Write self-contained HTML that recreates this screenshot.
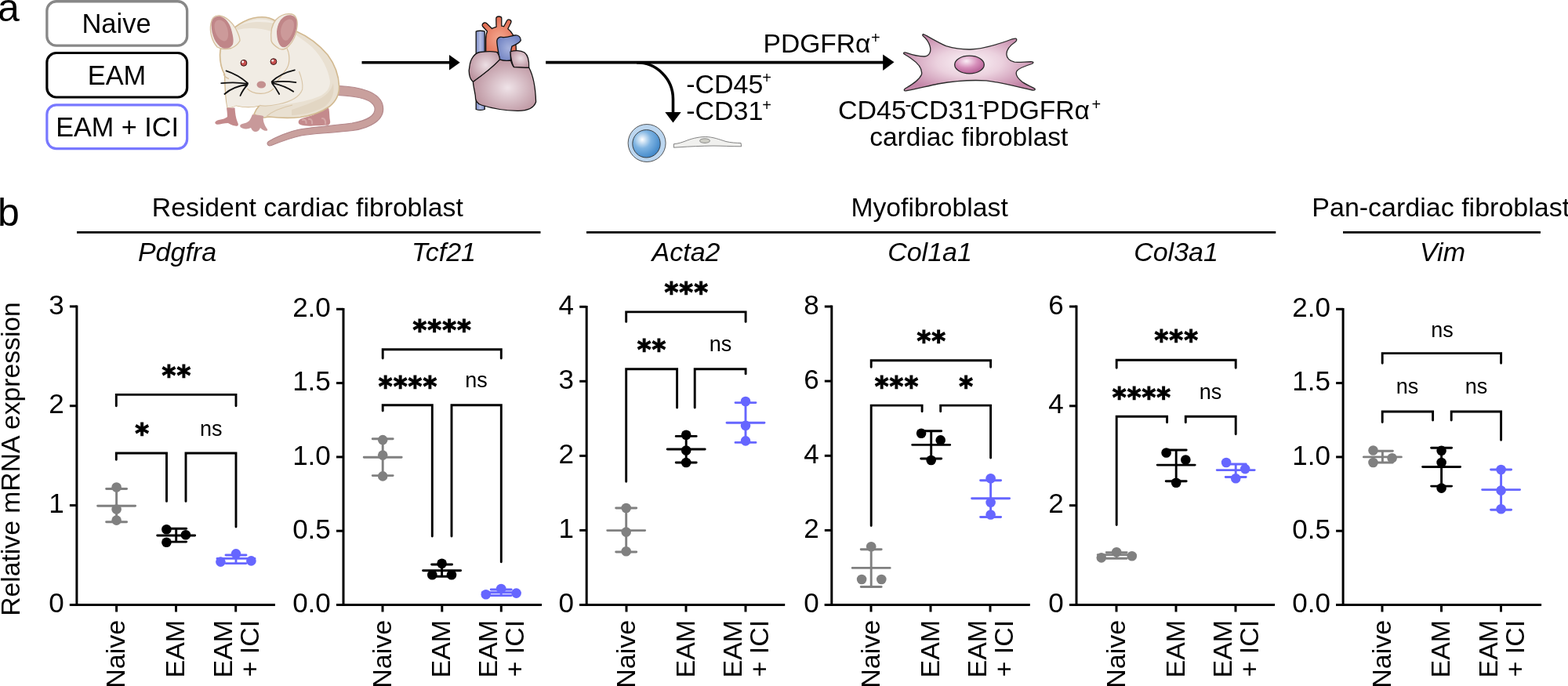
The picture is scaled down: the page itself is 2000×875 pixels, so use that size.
<!DOCTYPE html>
<html><head><meta charset="utf-8"><title>Figure</title>
<style>
html,body{margin:0;padding:0;background:#fff;width:2000px;height:875px;overflow:hidden}
svg{display:block}
text{font-family:"Liberation Sans", Arial, sans-serif;fill:#000}
.t{font-size:34px}
.h{font-size:33.7px}
.ti{font-size:34px;font-style:italic}
.tk{font-size:35px}
.tx{font-size:34px}
.ns{font-size:27px}
.as{font-family:"DejaVu Sans",sans-serif;font-weight:bold;font-size:34px;letter-spacing:1.1px;fill:#000;stroke:#000;stroke-width:1.1px}
.lbl{font-size:50px}
.sup{font-size:20px}
</style></head>
<body>
<svg width="2000" height="875" viewBox="0 0 2000 875">
<rect width="2000" height="875" fill="#fff"/>
<defs>
<radialGradient id="gHeart" cx="0.55" cy="0.55" r="0.6"><stop offset="0" stop-color="#efe3e8"/><stop offset="1" stop-color="#b98f9b"/></radialGradient>
<radialGradient id="gLobe" cx="0.55" cy="0.45" r="0.6"><stop offset="0" stop-color="#ecdfe4"/><stop offset="1" stop-color="#bb929e"/></radialGradient>
<radialGradient id="gAorta" cx="0.5" cy="0.6" r="0.6"><stop offset="0" stop-color="#f4a78f"/><stop offset="1" stop-color="#e06a4f"/></radialGradient>
<radialGradient id="gPulm" cx="0.5" cy="0.5" r="0.6"><stop offset="0" stop-color="#a7b3de"/><stop offset="1" stop-color="#6d7fc0"/></radialGradient>
<linearGradient id="gCava" x1="0" x2="1" y1="0" y2="0"><stop offset="0" stop-color="#7d8cc6"/><stop offset="0.5" stop-color="#b5bfe5"/><stop offset="1" stop-color="#7d8cc6"/></linearGradient>
<radialGradient id="gBlue" cx="0.35" cy="0.35" r="0.7"><stop offset="0" stop-color="#ffffff"/><stop offset="0.45" stop-color="#7fb4e2"/><stop offset="1" stop-color="#3f86c8"/></radialGradient>
<radialGradient id="gFib" cx="0.5" cy="0.5" r="0.55"><stop offset="0" stop-color="#fbf3f7"/><stop offset="0.45" stop-color="#ebd1de"/><stop offset="1" stop-color="#c486a8"/></radialGradient>
<radialGradient id="gNuc" cx="0.4" cy="0.3" r="0.75"><stop offset="0" stop-color="#fbeef6"/><stop offset="0.5" stop-color="#d68fba"/><stop offset="1" stop-color="#b0568f"/></radialGradient>
</defs>
<!-- label a -->
<text x="-3" y="27" class="lbl">a</text>
<!-- boxes -->
<rect x="59.85" y="1.75" width="178.8" height="56.4" rx="12" fill="#fff" stroke="#888" stroke-width="3.3"/>
<rect x="59.85" y="67.5" width="178.8" height="56.5" rx="12" fill="#fff" stroke="#000" stroke-width="3.2"/>
<rect x="59.85" y="133.9" width="178.8" height="55.7" rx="12" fill="#fff" stroke="#7878ff" stroke-width="3.2"/>
<text x="148.5" y="42" text-anchor="middle" class="t" style="font-size:34.5px">Naive</text>
<text x="149.0" y="107.7" text-anchor="middle" class="t" style="font-size:34.4px">EAM</text>
<text x="149.6" y="174.1" text-anchor="middle" class="t" style="font-size:34.2px">EAM + ICI</text>
<!-- mouse -->
<g id="mouse">
 <!-- tail -->
 <path d="M431 109.5 C458 110.5 486 117 488.5 136 C491 153 472 163.5 450 166.5 C420 170 398 170 384 173 C370 176 356 181.5 346 185.5 C341.5 187 339.5 183 342.5 180.5 C352 174.5 368 168 380 165.5 C396 162 420 161 449 157 C466 154 479.5 149 478 137.5 C476 127 456 122.5 431 121.5 Z" fill="#c9a09d" stroke="#b3878a" stroke-width="1.1"/>
 <!-- hind paw -->
 <path d="M410 136 C414 134 418 135 419.5 139 C420.5 145 420 150 421 154 C422 158.5 419 160.5 415 159.5 C410 160.5 404 160 399 160.5 C393 161 387 160.5 383 159 C379.5 157.5 380 153 384 151.5 C390 149.5 396 148 401 146 C405 143 407 139 410 136 Z" fill="#c48a8c"/>
 <path d="M386 153 C389 152 391 154 390.5 157 M394 152 C397 151.5 398.5 154 398 157.5 M411 151 C414 151 415.5 154 415 157.5" fill="none" stroke="#d4a7a6" stroke-width="2.2" stroke-linecap="round"/>
 <!-- body silhouette -->
 <path d="M290 45 C297 35 312 24 329 22 C338 21 346 23 352 27 L378 40 C392 46 407 57 418 70 C427 82 432 96 432.6 110 C432.8 120 429 129 420 136 C410 143 397 147.5 383 149.5 C370 151 356 150.5 343 149 L337 150 C333 150 328 148.5 324 145.5 C326 141 328.5 137 331 134.4 C322 137 312 137 301 134.4 C297 136.5 293 137.5 290.2 137 C288 128 287 112 286.6 95 C283 89 280.5 80 280.5 70 C280.5 60 284 52 290 45 Z" fill="#e9e0d1" stroke="#d2b990" stroke-width="1.6"/>
 <!-- lighter front/head region -->
 <path d="M292 44 C299 35 313 26 329 24.5 C340 24 350 27 356 32 C368 38 384 48 398 60 C410 72 419 88 421 104 C421 113 416 119 407 123 C395 128 380 131 365 133 C352 135 340 136 331 134.4 C322 137 312 137 301 134.4 C297 136.5 293 137.5 290.2 137 C288.5 128 287.5 112 287.5 95 C284 89 282 80 282 70 C282 60 286 51 292 44 Z" fill="#f1ece4"/>
 <!-- inner hip darker -->
 <path d="M372 140 C384 136 398 131 410 125 C418 120 423 114 425 106 C427 118 424 128 414 136 C402 143 386 146.5 372 147 Z" fill="#e2d6c3"/>
 <!-- body inner lines -->
 <path d="M381.5 91 C385 100 386.5 108 385.7 114 C382 124 370 130 355 133 C346 135 338 136 331 134.4 M340 148.5 C348 141 360 137 373 134" fill="none" stroke="#d9c6a8" stroke-width="1.1"/>
 <!-- head top band -->
 <path d="M301 35 C312 28 330 26 352 30 C348 33 346 36 346 40 C332 35 314 35 303 38 Z" fill="#e8dfd0"/>
 <!-- left front paw -->
 <path d="M289 137.5 L299.5 137.5 C300 144 300.5 150 303 156 C305 159.5 303.5 161.5 300 160.5 C296 160 293 158 291 157 C285 157 279 159.5 276 158.5 C273 157.5 274 154 279 153 C284 152 288 151 290 149 C290 145 289.5 141 289 137.5 Z" fill="#c48a8c"/>
 <!-- center front leg + paw -->
 <path d="M322 146 C327 146.5 332 147 336 148 C335 154 337 159 341 165 C342 167 339 167.5 336 166 C334 165 333 164 332 163 C331 166.5 328 168.5 325 168 C322 167.5 321 165 320 163 C317 164.5 313 165 309 163.5 C305 162 305.5 159 309 158 C313 157 316 156 318 154 C320 151 321 148 322 146 Z" fill="#c8999a"/>
 <!-- head outline / cheeks -->
 <path d="M365 60 C370 68 370 80 366 87 C362 93 358 98 352 106 M285 94.6 C287 98 290 100 292 100.3 M315.4 112.8 C318 116 324 119 332.2 119.4 C338 119.5 345 117 349 112.8" fill="none" stroke="#d6bf9c" stroke-width="1.2"/>
 <!-- ears -->
 <path d="M277 60 C270 52 267 40 269 30 C270 23 274 19.5 280 20 C288 21 296 28 301 37 C304 43 306 48 306 52 C303 57 299 60 295 61.5 C289 63 282 63 277 60 Z" fill="#f1ece4" stroke="#d6bf9c" stroke-width="1.3"/>
 <path d="M269.6 32 C269.8 24.5 273.5 20.6 279.5 20.8 C286.5 21.6 292.5 28.5 295 37.5 C296.8 44 298.5 51 297 56.5 C294.5 61.5 288.5 63 283.5 61 C275 57 269.8 45 269.6 32 Z" fill="#c08688"/>
 <path d="M273.5 33 C273.5 27 277.5 24.5 282.5 26 C287.5 28 290.5 35 291 42 C291.5 49 289 53 285.5 52.5 C278.5 51 273.5 42 273.5 33 Z" fill="#cc9a9a"/>
 <path d="M346 52 C345 42 346 32 352 25 C358 19 366 17 372 18 C377 19 380 25 379 34 C378 44 374 53 368 59 C364 63 360 64 356 62 C351 59 347 56 346 52 Z" fill="#f1ece4" stroke="#d6bf9c" stroke-width="1.3"/>
 <path d="M353 40 C354 30 358 23.5 364 20.5 C370 18 376.5 19.5 378.4 26 C379.6 35 376.5 45 372 52 C368 58 364 61.5 360 60 C355.5 58 353 50 353 40 Z" fill="#c08688"/>
 <path d="M358 40 C358.5 33 361.5 27 367 25 C372 23.5 375.5 26.5 375 33 C374.5 40 371 47 367 51 C362.5 54 358 48 358 40 Z" fill="#cc9a9a"/>
 <!-- eyes -->
 <circle cx="310.9" cy="80.3" r="3.9" fill="#c8504f" stroke="#3a1a1a" stroke-width="1"/><circle cx="309.7" cy="79" r="1.4" fill="#fff"/>
 <circle cx="348.9" cy="78.6" r="3.9" fill="#c8504f" stroke="#3a1a1a" stroke-width="1"/><circle cx="347.7" cy="77.3" r="1.4" fill="#fff"/>
 <!-- nose -->
 <ellipse cx="333.3" cy="108" rx="5.8" ry="4.6" fill="#c4908f"/>
 <!-- whiskers -->
 <path d="M316 106.2 C307 98 298 93.5 288.5 90.4 M316 107 C305 105 293 105 282.2 106.2 M315.5 108 C303 109.5 293 114 286.4 120 M315 109 C311 113 308.5 117.5 306.5 122 M346.7 104.1 C354 97 364 92 375.9 89.3 M346.7 104.8 C357 103.5 368 103.8 377.4 105.2 M347 105.8 C357 108 367 111.5 374.2 116.8 M347.2 106.5 C350.5 110.5 353.5 115 356.2 120" fill="none" stroke="#111" stroke-width="1.8" stroke-linecap="round"/>
</g>
<!-- arrow 1 -->
<line x1="461.5" y1="79.8" x2="575" y2="79.8" stroke="#000" stroke-width="3.6"/>
<path d="M573 70.1 L586.7 79.8 L573 89.5 Z" fill="#000"/>
<!-- heart -->
<g id="heart" stroke="#111" stroke-width="1.3" stroke-linejoin="round">
 <path d="M607.2 40 C609 39 616 39 618.2 40 L618.2 139.5 C615 140.5 610 140.5 607.2 139.5 Z" fill="url(#gCava)"/>
 <path d="M619.7 67 L619.7 50 C619.7 45 620.5 42 621.5 40 L615.5 33.5 C614.5 32 615.5 29.5 618 29 C619 28.8 620 29.2 621 30 L627.5 36.5 C629 35.5 631 34.8 633 34.3 L632.8 24 C632.8 22 634.5 21 636.2 21 C638 21 639.8 22 639.8 23.5 L639.8 33.2 C640.8 33.4 641.8 33.6 642.7 33.8 L646.5 26.5 C647.3 25 649 24.7 650.5 25.3 C652 26 652.3 27.5 651.7 29 L647.8 36.8 C652 40 656 46 657.5 54 C658.3 58 658.4 62 658.4 67 Z" fill="url(#gAorta)"/>
 <path d="M637.5 78 C636 66 634 60 633.8 52 C634 48 638 46.5 641 47.5 C647 48 652 46 657 45 C661 44.5 664.5 47 664.3 51.5 C663 55 657 57 653 59 C651.5 64 651 70 651.5 78 Z" fill="url(#gPulm)"/>
 <path d="M650.9 66 C656 64 664 64 669 67 C673 70 675 78 674.7 86.3 C668 86.5 661 86 655.4 85.6 C653 81 651.5 74 650.9 66 Z" fill="url(#gLobe)"/>
 <path d="M637.5 75.9 C641 77.2 647 77.6 651.5 77 C652.5 80 653.5 83.5 655.4 85.6 C662 86 670 86.3 674.7 86.3 C680 96 683 112 683.6 130 C681 138 672 141.5 660 141.3 C645 141 628 138.5 614 134 C608 132 606 128 606.3 122 C605 114 603.4 108 603.4 104.2 C615 96 628 86 637.5 75.9 Z" fill="url(#gHeart)"/>
 <path d="M603.4 104.2 C598 100 597.5 90 598.9 84.8 C600 75 605 68 612 66.5 C620 65.5 629 65.5 633.1 66.3 C636 68 637 72 637.5 75.9 C628 86 615 96 603.4 104.2 Z" fill="url(#gLobe)"/>
</g>
<!-- long line + curved arrow -->
<line x1="696.1" y1="79.6" x2="1128" y2="79.6" stroke="#000" stroke-width="3.6"/>
<path d="M1126.2 69.5 L1140.5 79.3 L1126.2 90 Z" fill="#000"/>
<path d="M812 79.8 A46.5 46.5 0 0 1 858.5 126.3 L858.5 145" fill="none" stroke="#000" stroke-width="3.6"/>
<path d="M848.3 143.1 L868.7 143.1 L858.5 156.5 Z" fill="#000"/>
<!-- texts -->
<text x="875.2" y="118.7" class="t">-CD45</text><text x="972.3" y="106.1" class="sup">+</text>
<text x="875.2" y="153.1" class="t">-CD31</text><text x="972.3" y="140.8" class="sup">+</text>
<text x="973.5" y="67.1" class="t" style="font-size:33.6px">PDGFRα</text><text x="1111" y="54.9" class="sup">+</text>
<text x="1068.9" y="151.75" class="t">CD45</text><text x="1154.4" y="141.1" class="sup" style="font-size:24px">-</text>
<text x="1160.4" y="151.75" class="t">CD31</text><text x="1247.1" y="141.1" class="sup" style="font-size:24px">-</text>
<text x="1253" y="151.75" class="t" style="font-size:33.6px">PDGFRα</text><text x="1392.4" y="139.6" class="sup">+</text>
<text x="1235.75" y="186.25" text-anchor="middle" class="t" style="font-size:33.5px">cardiac fibroblast</text>
<!-- blue cell -->
<circle cx="825.1" cy="182.5" r="24" fill="#bcd6ef" stroke="#444" stroke-width="0.9"/>
<circle cx="824.5" cy="183.3" r="17.7" fill="url(#gBlue)" stroke="#333" stroke-width="0.9"/>
<!-- endothelial cell -->
<path d="M859.4 183.7 C866 183 870 181.5 874 180 C880 177.5 890 174.5 899.7 174.5 C909 174.5 918 178 926 180.5 C932 182 939 182.3 945.1 182.5 L945.6 186.8 C933 186.8 920 186 910 186 C895 186.2 880 186.8 866 187.8 L859.4 188.2 Z" fill="#f0f0ee" stroke="#666" stroke-width="0.8"/>
<ellipse cx="899" cy="179.6" rx="6.5" ry="2.8" fill="#cfcfc7" stroke="#666" stroke-width="0.7"/>
<!-- fibroblast -->
<path d="M1177.9 43.7 C1185 47 1196 54 1206.7 58.7 C1218 62 1228 63.2 1237.6 63 C1252 62.5 1268 58 1283.8 52.5 C1289 50.5 1293 49 1295.5 49.2 C1297.5 49.8 1297 52 1295 53.5 C1289 57.5 1284 63 1283.8 68.9 C1284 74 1288 78 1294 79.2 C1301 79.8 1310 78.5 1316.7 78.8 C1318.5 79.2 1318.5 80.5 1316 81.5 C1308 84 1300 86.5 1297 90.5 C1294.5 95 1298 100 1304.4 104.9 C1310 108.5 1316 111 1319.5 112.8 C1321 114 1320 115.5 1317 115 C1300 111.5 1280 105.5 1258.1 102.9 C1240 101.8 1220 102.8 1196.4 107 C1182 110 1166 114 1155.5 115.8 C1153 116.2 1152.5 114.5 1154.5 113 C1162 108.5 1172 103 1175.5 95 C1177 87 1170 80 1162 74.5 C1158 71.5 1154 69.5 1152.8 68.5 C1152 67.2 1153.5 66.5 1155.5 67.2 C1162 69.5 1170 72 1178.9 72 C1186 71.5 1188 65 1186.1 58.7 C1184.5 53 1180 48 1177 45.5 C1176.5 44.2 1177 43.3 1177.9 43.7 Z" fill="url(#gFib)" stroke="#2a2a2a" stroke-width="1.3"/>
<ellipse cx="1236.5" cy="82.5" rx="18.8" ry="11.4" fill="url(#gNuc)" stroke="#2a2a2a" stroke-width="1.3"/>


<text x="-3" y="288" class="lbl">b</text>
<text x="392.3" y="276" text-anchor="middle" class="h">Resident cardiac fibroblast</text>
<line x1="98" y1="296.4" x2="689.5" y2="296.4" stroke="#000" stroke-width="2.9"/>
<text x="1185.6" y="276" text-anchor="middle" class="h">Myofibroblast</text>
<line x1="748" y1="296.4" x2="1627.3" y2="296.4" stroke="#000" stroke-width="2.9"/>
<text x="1673.3" y="276" class="t">Pan-cardiac fibroblast</text>
<line x1="1713" y1="296.4" x2="1965" y2="296.4" stroke="#000" stroke-width="2.9"/>
<text x="226" y="333" text-anchor="middle" class="ti">Pdgfra</text>
<text x="566" y="333" text-anchor="middle" class="ti">Tcf21</text>
<text x="875" y="333" text-anchor="middle" class="ti">Acta2</text>
<text x="1186" y="333" text-anchor="middle" class="ti">Col1a1</text>
<text x="1500" y="333" text-anchor="middle" class="ti">Col3a1</text>
<text x="1840" y="333" text-anchor="middle" class="ti">Vim</text>
<text transform="translate(25,585.5) rotate(-90)" text-anchor="middle" class="h">Relative mRNA expression</text>

<path d="M97.9 389.5 V771.5 M88.9 771.5 H350.9" fill="none" stroke="#000" stroke-width="3" stroke-linecap="butt"/>
<line x1="88.9" y1="771.5" x2="97.9" y2="771.5" stroke="#000" stroke-width="3"/>
<text x="81.7" y="781.1" text-anchor="end" class="tk">0</text>
<line x1="88.9" y1="644.6" x2="97.9" y2="644.6" stroke="#000" stroke-width="3"/>
<text x="81.7" y="654.2" text-anchor="end" class="tk">1</text>
<line x1="88.9" y1="517.7" x2="97.9" y2="517.7" stroke="#000" stroke-width="3"/>
<text x="81.7" y="527.3" text-anchor="end" class="tk">2</text>
<line x1="88.9" y1="390.9" x2="97.9" y2="390.9" stroke="#000" stroke-width="3"/>
<text x="81.7" y="400.5" text-anchor="end" class="tk">3</text>
<line x1="148.6" y1="771.5" x2="148.6" y2="780.5" stroke="#000" stroke-width="3"/>
<line x1="224.5" y1="771.5" x2="224.5" y2="780.5" stroke="#000" stroke-width="3"/>
<line x1="300.7" y1="771.5" x2="300.7" y2="780.5" stroke="#000" stroke-width="3"/>
<text transform="translate(159.1,790.8) rotate(-90)" text-anchor="end" class="tx">Naive</text>
<text transform="translate(235.0,790.8) rotate(-90)" text-anchor="end" class="tx">EAM</text>
<text transform="translate(295.7,790.8) rotate(-90)" text-anchor="end" class="tx">EAM</text>
<text transform="translate(329.7,790.8) rotate(-90)" text-anchor="end" class="tx">+ ICI</text>
<path d="M148.3 517.7 V503.4 H301.0 V517.7" fill="none" stroke="#000" stroke-width="2.9" stroke-linecap="round" stroke-linejoin="miter"/>
<text transform="translate(225.4,491.1) scale(1,1.06)" text-anchor="middle" class="as">**</text>
<path d="M148.3 586.2 V578.0 H212.5 V639.4" fill="none" stroke="#000" stroke-width="2.9" stroke-linecap="round" stroke-linejoin="miter"/>
<text transform="translate(181.8,564.7) scale(1,1.06)" text-anchor="middle" class="as">*</text>
<path d="M237.0 639.4 V578.0 H301.0 V672.0" fill="none" stroke="#000" stroke-width="2.9" stroke-linecap="round" stroke-linejoin="miter"/>
<text x="269.2" y="555.5" text-anchor="middle" class="ns">ns</text>
<circle cx="148.6" cy="621.5" r="6.3" fill="#808080"/>
<circle cx="148.6" cy="649.5" r="6.3" fill="#808080"/>
<circle cx="148.6" cy="663.6" r="6.3" fill="#808080"/>
<path d="M124.6 645.3 H172.6 M135.6 623.5 H161.6 M135.6 665.8 H161.6 M148.6 623.5 V665.8" fill="none" stroke="#808080" stroke-width="2.9" stroke-linecap="round"/>
<circle cx="212.4" cy="675.3" r="6.3" fill="#000000"/>
<circle cx="212.4" cy="691.7" r="6.3" fill="#000000"/>
<circle cx="236.9" cy="682.2" r="6.3" fill="#000000"/>
<path d="M200.7 683.0 H248.7 M211.7 674.3 H237.7 M211.7 691.1 H237.7 M224.7 674.3 V691.1" fill="none" stroke="#000000" stroke-width="2.9" stroke-linecap="round"/>
<circle cx="301.0" cy="706.4" r="6.3" fill="#6666ff"/>
<circle cx="281.4" cy="716.6" r="6.3" fill="#6666ff"/>
<circle cx="320.4" cy="715.4" r="6.3" fill="#6666ff"/>
<path d="M277.0 712.4 H325.0 M288.0 708.0 H314.0 M288.0 718.6 H314.0 M301.0 708.0 V718.6" fill="none" stroke="#6666ff" stroke-width="2.9" stroke-linecap="round"/>
<path d="M438.0 392.9 V771.5 M429.0 771.5 H691.0" fill="none" stroke="#000" stroke-width="3" stroke-linecap="butt"/>
<line x1="429.0" y1="771.5" x2="438.0" y2="771.5" stroke="#000" stroke-width="3"/>
<text x="421.8" y="781.1" text-anchor="end" class="tk">0.0</text>
<line x1="429.0" y1="677.2" x2="438.0" y2="677.2" stroke="#000" stroke-width="3"/>
<text x="421.8" y="686.8" text-anchor="end" class="tk">0.5</text>
<line x1="429.0" y1="582.9" x2="438.0" y2="582.9" stroke="#000" stroke-width="3"/>
<text x="421.8" y="592.5" text-anchor="end" class="tk">1.0</text>
<line x1="429.0" y1="488.6" x2="438.0" y2="488.6" stroke="#000" stroke-width="3"/>
<text x="421.8" y="498.2" text-anchor="end" class="tk">1.5</text>
<line x1="429.0" y1="394.3" x2="438.0" y2="394.3" stroke="#000" stroke-width="3"/>
<text x="421.8" y="403.9" text-anchor="end" class="tk">2.0</text>
<line x1="488.0" y1="771.5" x2="488.0" y2="780.5" stroke="#000" stroke-width="3"/>
<line x1="563.8" y1="771.5" x2="563.8" y2="780.5" stroke="#000" stroke-width="3"/>
<line x1="639.3" y1="771.5" x2="639.3" y2="780.5" stroke="#000" stroke-width="3"/>
<text transform="translate(498.5,790.8) rotate(-90)" text-anchor="end" class="tx">Naive</text>
<text transform="translate(574.3,790.8) rotate(-90)" text-anchor="end" class="tx">EAM</text>
<text transform="translate(634.3,790.8) rotate(-90)" text-anchor="end" class="tx">EAM</text>
<text transform="translate(668.3,790.8) rotate(-90)" text-anchor="end" class="tx">+ ICI</text>
<path d="M488.2 457.0 V445.7 H639.3 V457.0" fill="none" stroke="#000" stroke-width="2.9" stroke-linecap="round" stroke-linejoin="miter"/>
<text transform="translate(564.2,433.3) scale(1,1.06)" text-anchor="middle" class="as">****</text>
<path d="M488.2 524.0 V516.7 H551.3 V684.0" fill="none" stroke="#000" stroke-width="2.9" stroke-linecap="round" stroke-linejoin="miter"/>
<text transform="translate(520.6,504.6) scale(1,1.06)" text-anchor="middle" class="as">****</text>
<path d="M576.0 684.0 V516.7 H639.3 V716.8" fill="none" stroke="#000" stroke-width="2.9" stroke-linecap="round" stroke-linejoin="miter"/>
<text x="607.6" y="493.5" text-anchor="middle" class="ns">ns</text>
<circle cx="488.2" cy="561.1" r="6.3" fill="#808080"/>
<circle cx="488.2" cy="580.6" r="6.3" fill="#808080"/>
<circle cx="488.2" cy="607.4" r="6.3" fill="#808080"/>
<path d="M464.2 583.3 H512.2 M475.2 559.7 H501.2 M475.2 606.6 H501.2 M488.2 559.7 V606.6" fill="none" stroke="#808080" stroke-width="2.9" stroke-linecap="round"/>
<circle cx="563.6" cy="718.7" r="6.3" fill="#000000"/>
<circle cx="551.3" cy="733.3" r="6.3" fill="#000000"/>
<circle cx="576.0" cy="733.3" r="6.3" fill="#000000"/>
<path d="M539.6 727.8 H587.6 M550.6 720.0 H576.6 M550.6 735.2 H576.6 M563.6 720.0 V735.2" fill="none" stroke="#000000" stroke-width="2.9" stroke-linecap="round"/>
<circle cx="639.2" cy="751.0" r="6.3" fill="#6666ff"/>
<circle cx="619.8" cy="758.2" r="6.3" fill="#6666ff"/>
<circle cx="658.6" cy="756.6" r="6.3" fill="#6666ff"/>
<path d="M615.2 755.8 H663.2 M626.2 752.0 H652.2 M626.2 759.6 H652.2 M639.2 752.0 V759.6" fill="none" stroke="#6666ff" stroke-width="2.9" stroke-linecap="round"/>
<path d="M748.2 389.9 V771.5 M739.2 771.5 H1001.2" fill="none" stroke="#000" stroke-width="3" stroke-linecap="butt"/>
<line x1="739.2" y1="771.5" x2="748.2" y2="771.5" stroke="#000" stroke-width="3"/>
<text x="732.0" y="781.1" text-anchor="end" class="tk">0</text>
<line x1="739.2" y1="676.4" x2="748.2" y2="676.4" stroke="#000" stroke-width="3"/>
<text x="732.0" y="686.0" text-anchor="end" class="tk">1</text>
<line x1="739.2" y1="581.4" x2="748.2" y2="581.4" stroke="#000" stroke-width="3"/>
<text x="732.0" y="591.0" text-anchor="end" class="tk">2</text>
<line x1="739.2" y1="486.3" x2="748.2" y2="486.3" stroke="#000" stroke-width="3"/>
<text x="732.0" y="495.9" text-anchor="end" class="tk">3</text>
<line x1="739.2" y1="391.3" x2="748.2" y2="391.3" stroke="#000" stroke-width="3"/>
<text x="732.0" y="400.9" text-anchor="end" class="tk">4</text>
<line x1="799.0" y1="771.5" x2="799.0" y2="780.5" stroke="#000" stroke-width="3"/>
<line x1="875.0" y1="771.5" x2="875.0" y2="780.5" stroke="#000" stroke-width="3"/>
<line x1="951.0" y1="771.5" x2="951.0" y2="780.5" stroke="#000" stroke-width="3"/>
<text transform="translate(809.5,790.8) rotate(-90)" text-anchor="end" class="tx">Naive</text>
<text transform="translate(885.5,790.8) rotate(-90)" text-anchor="end" class="tx">EAM</text>
<text transform="translate(946.0,790.8) rotate(-90)" text-anchor="end" class="tx">EAM</text>
<text transform="translate(980.0,790.8) rotate(-90)" text-anchor="end" class="tx">+ ICI</text>
<path d="M798.7 410.4 V397.9 H951.1 V410.4" fill="none" stroke="#000" stroke-width="2.9" stroke-linecap="round" stroke-linejoin="miter"/>
<text transform="translate(875.8,384.9) scale(1,1.06)" text-anchor="middle" class="as">***</text>
<path d="M798.7 614.2 V470.8 H863.6 V520.1" fill="none" stroke="#000" stroke-width="2.9" stroke-linecap="round" stroke-linejoin="miter"/>
<text transform="translate(831.5,457.7) scale(1,1.06)" text-anchor="middle" class="as">**</text>
<path d="M886.2 520.1 V470.8 H951.1 V476.9" fill="none" stroke="#000" stroke-width="2.9" stroke-linecap="round" stroke-linejoin="miter"/>
<text x="919.0" y="448.0" text-anchor="middle" class="ns">ns</text>
<circle cx="798.7" cy="648.0" r="6.3" fill="#808080"/>
<circle cx="798.7" cy="678.6" r="6.3" fill="#808080"/>
<circle cx="798.7" cy="703.3" r="6.3" fill="#808080"/>
<path d="M774.7 676.6 H822.7 M785.7 648.0 H811.7 M785.7 704.0 H811.7 M798.7 648.0 V704.0" fill="none" stroke="#808080" stroke-width="2.9" stroke-linecap="round"/>
<circle cx="875.2" cy="554.8" r="6.3" fill="#000000"/>
<circle cx="875.2" cy="574.5" r="6.3" fill="#000000"/>
<circle cx="875.2" cy="590.0" r="6.3" fill="#000000"/>
<path d="M851.2 573.0 H899.2 M862.2 556.4 H888.2 M862.2 590.0 H888.2 M875.2 556.4 V590.0" fill="none" stroke="#000000" stroke-width="2.9" stroke-linecap="round"/>
<circle cx="951.0" cy="512.0" r="6.3" fill="#6666ff"/>
<circle cx="951.0" cy="542.8" r="6.3" fill="#6666ff"/>
<circle cx="951.0" cy="562.4" r="6.3" fill="#6666ff"/>
<path d="M927.0 539.2 H975.0 M938.0 513.6 H964.0 M938.0 564.4 H964.0 M951.0 513.6 V564.4" fill="none" stroke="#6666ff" stroke-width="2.9" stroke-linecap="round"/>
<path d="M1060.8 389.6 V771.5 M1051.8 771.5 H1313.8" fill="none" stroke="#000" stroke-width="3" stroke-linecap="butt"/>
<line x1="1051.8" y1="771.5" x2="1060.8" y2="771.5" stroke="#000" stroke-width="3"/>
<text x="1044.6" y="781.1" text-anchor="end" class="tk">0</text>
<line x1="1051.8" y1="676.4" x2="1060.8" y2="676.4" stroke="#000" stroke-width="3"/>
<text x="1044.6" y="686.0" text-anchor="end" class="tk">2</text>
<line x1="1051.8" y1="581.3" x2="1060.8" y2="581.3" stroke="#000" stroke-width="3"/>
<text x="1044.6" y="590.9" text-anchor="end" class="tk">4</text>
<line x1="1051.8" y1="486.1" x2="1060.8" y2="486.1" stroke="#000" stroke-width="3"/>
<text x="1044.6" y="495.7" text-anchor="end" class="tk">6</text>
<line x1="1051.8" y1="391.0" x2="1060.8" y2="391.0" stroke="#000" stroke-width="3"/>
<text x="1044.6" y="400.6" text-anchor="end" class="tk">8</text>
<line x1="1111.0" y1="771.5" x2="1111.0" y2="780.5" stroke="#000" stroke-width="3"/>
<line x1="1187.0" y1="771.5" x2="1187.0" y2="780.5" stroke="#000" stroke-width="3"/>
<line x1="1263.0" y1="771.5" x2="1263.0" y2="780.5" stroke="#000" stroke-width="3"/>
<text transform="translate(1121.5,790.8) rotate(-90)" text-anchor="end" class="tx">Naive</text>
<text transform="translate(1197.5,790.8) rotate(-90)" text-anchor="end" class="tx">EAM</text>
<text transform="translate(1258.0,790.8) rotate(-90)" text-anchor="end" class="tx">EAM</text>
<text transform="translate(1292.0,790.8) rotate(-90)" text-anchor="end" class="tx">+ ICI</text>
<path d="M1111.2 468.3 V459.7 H1263.6 V468.3" fill="none" stroke="#000" stroke-width="2.9" stroke-linecap="round" stroke-linejoin="miter"/>
<text transform="translate(1188.3,446.7) scale(1,1.06)" text-anchor="middle" class="as">**</text>
<path d="M1111.2 670.6 V517.1 H1176.1 V524.7" fill="none" stroke="#000" stroke-width="2.9" stroke-linecap="round" stroke-linejoin="miter"/>
<text transform="translate(1144.0,504.7) scale(1,1.06)" text-anchor="middle" class="as">***</text>
<path d="M1199.7 524.7 V517.1 H1263.6 V584.0" fill="none" stroke="#000" stroke-width="2.9" stroke-linecap="round" stroke-linejoin="miter"/>
<text transform="translate(1232.6,504.7) scale(1,1.06)" text-anchor="middle" class="as">*</text>
<circle cx="1111.2" cy="697.2" r="6.3" fill="#808080"/>
<circle cx="1099.1" cy="739.0" r="6.3" fill="#808080"/>
<circle cx="1124.3" cy="739.0" r="6.3" fill="#808080"/>
<path d="M1087.2 724.4 H1135.2 M1098.2 700.8 H1124.2 M1098.2 748.5 H1124.2 M1111.2 700.8 V748.5" fill="none" stroke="#808080" stroke-width="2.9" stroke-linecap="round"/>
<circle cx="1175.1" cy="552.8" r="6.3" fill="#000000"/>
<circle cx="1199.7" cy="561.4" r="6.3" fill="#000000"/>
<circle cx="1187.7" cy="587.0" r="6.3" fill="#000000"/>
<path d="M1163.7 567.4 H1211.7 M1174.7 549.8 H1200.7 M1174.7 585.0 H1200.7 M1187.7 549.8 V585.0" fill="none" stroke="#000000" stroke-width="2.9" stroke-linecap="round"/>
<circle cx="1263.6" cy="610.2" r="6.3" fill="#6666ff"/>
<circle cx="1263.6" cy="640.9" r="6.3" fill="#6666ff"/>
<circle cx="1263.6" cy="656.5" r="6.3" fill="#6666ff"/>
<path d="M1239.6 635.8 H1287.6 M1250.6 612.7 H1276.6 M1250.6 659.5 H1276.6 M1263.6 612.7 V659.5" fill="none" stroke="#6666ff" stroke-width="2.9" stroke-linecap="round"/>
<path d="M1373.0 389.6 V771.5 M1364.0 771.5 H1626.0" fill="none" stroke="#000" stroke-width="3" stroke-linecap="butt"/>
<line x1="1364.0" y1="771.5" x2="1373.0" y2="771.5" stroke="#000" stroke-width="3"/>
<text x="1356.8" y="781.1" text-anchor="end" class="tk">0</text>
<line x1="1364.0" y1="644.7" x2="1373.0" y2="644.7" stroke="#000" stroke-width="3"/>
<text x="1356.8" y="654.3" text-anchor="end" class="tk">2</text>
<line x1="1364.0" y1="517.8" x2="1373.0" y2="517.8" stroke="#000" stroke-width="3"/>
<text x="1356.8" y="527.4" text-anchor="end" class="tk">4</text>
<line x1="1364.0" y1="391.0" x2="1373.0" y2="391.0" stroke="#000" stroke-width="3"/>
<text x="1356.8" y="400.6" text-anchor="end" class="tk">6</text>
<line x1="1424.0" y1="771.5" x2="1424.0" y2="780.5" stroke="#000" stroke-width="3"/>
<line x1="1500.0" y1="771.5" x2="1500.0" y2="780.5" stroke="#000" stroke-width="3"/>
<line x1="1576.0" y1="771.5" x2="1576.0" y2="780.5" stroke="#000" stroke-width="3"/>
<text transform="translate(1434.5,790.8) rotate(-90)" text-anchor="end" class="tx">Naive</text>
<text transform="translate(1510.5,790.8) rotate(-90)" text-anchor="end" class="tx">EAM</text>
<text transform="translate(1571.0,790.8) rotate(-90)" text-anchor="end" class="tx">EAM</text>
<text transform="translate(1605.0,790.8) rotate(-90)" text-anchor="end" class="tx">+ ICI</text>
<path d="M1424.2 469.3 V459.2 H1576.2 V469.3" fill="none" stroke="#000" stroke-width="2.9" stroke-linecap="round" stroke-linejoin="miter"/>
<text transform="translate(1500.8,445.8) scale(1,1.06)" text-anchor="middle" class="as">***</text>
<path d="M1424.2 669.6 V531.2 H1488.6 V538.7" fill="none" stroke="#000" stroke-width="2.9" stroke-linecap="round" stroke-linejoin="miter"/>
<text transform="translate(1456.5,518.7) scale(1,1.06)" text-anchor="middle" class="as">****</text>
<path d="M1512.3 538.7 V531.2 H1576.2 V553.8" fill="none" stroke="#000" stroke-width="2.9" stroke-linecap="round" stroke-linejoin="miter"/>
<text x="1544.0" y="508.6" text-anchor="middle" class="ns">ns</text>
<circle cx="1424.2" cy="704.2" r="6.3" fill="#808080"/>
<circle cx="1404.8" cy="711.4" r="6.3" fill="#808080"/>
<circle cx="1443.8" cy="709.2" r="6.3" fill="#808080"/>
<path d="M1400.2 707.6 H1448.2 M1411.2 704.6 H1437.2 M1411.2 712.2 H1437.2 M1424.2 704.6 V712.2" fill="none" stroke="#808080" stroke-width="2.9" stroke-linecap="round"/>
<circle cx="1487.6" cy="577.5" r="6.3" fill="#000000"/>
<circle cx="1512.3" cy="586.5" r="6.3" fill="#000000"/>
<circle cx="1500.2" cy="615.7" r="6.3" fill="#000000"/>
<path d="M1476.2 593.1 H1524.2 M1487.2 574.0 H1513.2 M1487.2 613.7 H1513.2 M1500.2 574.0 V613.7" fill="none" stroke="#000000" stroke-width="2.9" stroke-linecap="round"/>
<circle cx="1564.1" cy="590.0" r="6.3" fill="#6666ff"/>
<circle cx="1588.2" cy="598.1" r="6.3" fill="#6666ff"/>
<circle cx="1576.2" cy="610.2" r="6.3" fill="#6666ff"/>
<path d="M1552.2 599.6 H1600.2 M1563.2 592.0 H1589.2 M1563.2 608.5 H1589.2 M1576.2 592.0 V608.5" fill="none" stroke="#6666ff" stroke-width="2.9" stroke-linecap="round"/>
<path d="M1713.1 392.9 V771.5 M1704.1 771.5 H1966.1" fill="none" stroke="#000" stroke-width="3" stroke-linecap="butt"/>
<line x1="1704.1" y1="771.5" x2="1713.1" y2="771.5" stroke="#000" stroke-width="3"/>
<text x="1696.9" y="781.1" text-anchor="end" class="tk">0.0</text>
<line x1="1704.1" y1="677.2" x2="1713.1" y2="677.2" stroke="#000" stroke-width="3"/>
<text x="1696.9" y="686.8" text-anchor="end" class="tk">0.5</text>
<line x1="1704.1" y1="582.9" x2="1713.1" y2="582.9" stroke="#000" stroke-width="3"/>
<text x="1696.9" y="592.5" text-anchor="end" class="tk">1.0</text>
<line x1="1704.1" y1="488.6" x2="1713.1" y2="488.6" stroke="#000" stroke-width="3"/>
<text x="1696.9" y="498.2" text-anchor="end" class="tk">1.5</text>
<line x1="1704.1" y1="394.3" x2="1713.1" y2="394.3" stroke="#000" stroke-width="3"/>
<text x="1696.9" y="403.9" text-anchor="end" class="tk">2.0</text>
<line x1="1763.0" y1="771.5" x2="1763.0" y2="780.5" stroke="#000" stroke-width="3"/>
<line x1="1838.5" y1="771.5" x2="1838.5" y2="780.5" stroke="#000" stroke-width="3"/>
<line x1="1914.5" y1="771.5" x2="1914.5" y2="780.5" stroke="#000" stroke-width="3"/>
<text transform="translate(1773.5,790.8) rotate(-90)" text-anchor="end" class="tx">Naive</text>
<text transform="translate(1849.0,790.8) rotate(-90)" text-anchor="end" class="tx">EAM</text>
<text transform="translate(1909.5,790.8) rotate(-90)" text-anchor="end" class="tx">EAM</text>
<text transform="translate(1943.5,790.8) rotate(-90)" text-anchor="end" class="tx">+ ICI</text>
<path d="M1763.2 463.2 V450.6 H1914.6 V463.2" fill="none" stroke="#000" stroke-width="2.9" stroke-linecap="round" stroke-linejoin="miter"/>
<text x="1839.6" y="429.5" text-anchor="middle" class="ns">ns</text>
<path d="M1763.2 538.6 V525.0 H1827.6 V536.0" fill="none" stroke="#000" stroke-width="2.9" stroke-linecap="round" stroke-linejoin="miter"/>
<text x="1794.9" y="502.4" text-anchor="middle" class="ns">ns</text>
<path d="M1851.2 536.0 V525.0 H1914.6 V561.3" fill="none" stroke="#000" stroke-width="2.9" stroke-linecap="round" stroke-linejoin="miter"/>
<text x="1882.9" y="502.4" text-anchor="middle" class="ns">ns</text>
<circle cx="1751.5" cy="574.5" r="6.3" fill="#808080"/>
<circle cx="1751.5" cy="590.0" r="6.3" fill="#808080"/>
<circle cx="1775.6" cy="584.2" r="6.3" fill="#808080"/>
<path d="M1739.4 582.9 H1787.4 M1750.4 575.3 H1776.4 M1750.4 590.0 H1776.4 M1763.4 575.3 V590.0" fill="none" stroke="#808080" stroke-width="2.9" stroke-linecap="round"/>
<circle cx="1838.6" cy="574.8" r="6.3" fill="#000000"/>
<circle cx="1838.6" cy="590.0" r="6.3" fill="#000000"/>
<circle cx="1838.6" cy="622.6" r="6.3" fill="#000000"/>
<path d="M1814.6 595.5 H1862.6 M1825.6 571.3 H1851.6 M1825.6 620.1 H1851.6 M1838.6 571.3 V620.1" fill="none" stroke="#000000" stroke-width="2.9" stroke-linecap="round"/>
<circle cx="1914.6" cy="599.0" r="6.3" fill="#6666ff"/>
<circle cx="1914.6" cy="625.6" r="6.3" fill="#6666ff"/>
<circle cx="1914.6" cy="649.3" r="6.3" fill="#6666ff"/>
<path d="M1890.6 624.6 H1938.6 M1901.6 599.0 H1927.6 M1901.6 650.3 H1927.6 M1914.6 599.0 V650.3" fill="none" stroke="#6666ff" stroke-width="2.9" stroke-linecap="round"/>
</svg>
</body></html>
